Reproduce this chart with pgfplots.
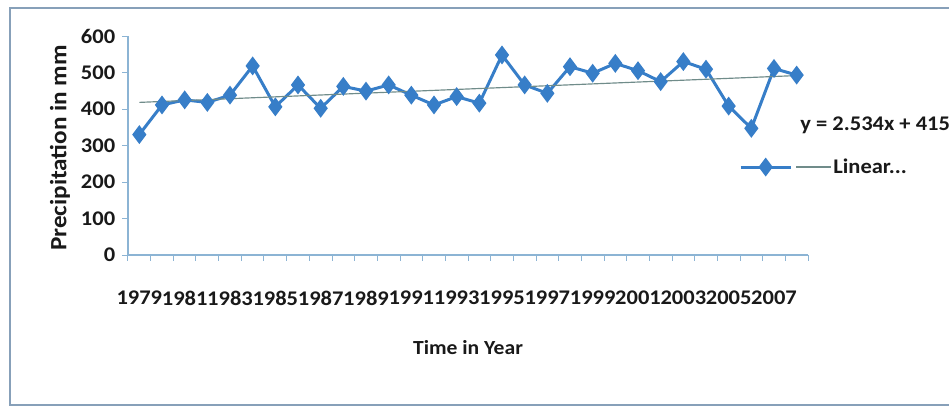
\documentclass[border=0pt]{standalone}
\usepackage{pgfplots}
\pgfplotsset{compat=1.18}
\usepackage{fontspec}
\setmainfont{Carlito}[FakeStretch=1.08]

\definecolor{serblue}{RGB}{55,126,200}
\definecolor{trendc}{RGB}{112,140,138}
\definecolor{axc}{RGB}{140,180,212}
\definecolor{framec}{RGB}{135,160,185}
\definecolor{txt}{RGB}{25,25,25}

\pgfplotsset{
  legA/.style={legend image code/.code={\draw[mark repeat=2, mark phase=2, ##1] plot coordinates {(0pt,0pt) (15pt,0pt) (30pt,0pt)};}},
  legB/.style={legend image code/.code={\draw[##1] (0pt,0pt) -- (21pt,0pt);}},
}

\begin{document}
\begin{tikzpicture}
\begin{axis}[
  at={(0,0)}, anchor=south west,
  width=408pt, height=131.4pt, scale only axis,
  xmin=0.5, xmax=30.5, ymin=0, ymax=600,
  clip=false,
  axis x line=bottom, axis y line=left,
  axis line style={-, axc, line width=0.8pt},
  tick align=outside, major tick length=3.5pt,
  tick style={axc, line width=0.6pt},
  xtick={0.5,1.5,...,30.5}, xticklabels={},
  extra x ticks={1,3,...,29},
  extra x tick labels={1979,1981,1983,1985,1987,1989,1991,1993,1995,1997,1999,2001,2003,2005,2007},
  extra x tick style={tick style={draw=none}},
  ytick={0,100,...,600},
  ticklabel style={font=\fontsize{12.5}{14}\selectfont\bfseries, text=txt},
  /pgf/number format/assume math mode=true,
  xticklabel style={inner sep=0pt, yshift=-18pt},
  yticklabel style={inner sep=0pt, xshift=-4pt},
  xlabel={Time in Year},
  ylabel={Precipitation in mm},
  xlabel style={font=\fontsize{12}{14}\selectfont\bfseries, text=txt, at={(rel axis cs:0.5,0)}, anchor=center, yshift=-55.8pt},
  ylabel style={font=\fontsize{14}{16}\selectfont\bfseries, text=txt, at={(rel axis cs:0,0.5)}, anchor=center, yshift=40.8pt, xshift=-1.5pt},
  legend columns=2,
  legend style={draw=none, fill=none, inner sep=0pt, anchor=west, at={(axis cs:27.45,241)},
    font=\fontsize{12.5}{14}\selectfont\bfseries, text=txt,
    nodes={inner sep=1pt}},
  legend cell align=left,
]
\addplot[serblue, line width=1.8pt, mark=diamond*, mark size=4.2pt, mark options={solid}, legA]
  coordinates {
  (1,330) (2,411) (3,425) (4,418) (5,438) (6,518) (7,406) (8,466) (9,402) (10,462)
  (11,449) (12,466) (13,438) (14,411) (15,434) (16,416) (17,548) (18,466) (19,443) (20,516)
  (21,498) (22,525) (23,505) (24,475) (25,530) (26,509) (27,408) (28,347) (29,511) (30,493)
  };
\addlegendentry{}
\addplot[trendc, line width=0.7pt, legB]
  coordinates {(1,418.134) (30,491.62)};
\addlegendentry{Linear...}
\node[anchor=west, inner sep=0pt, font=\fontsize{12.5}{14}\selectfont\bfseries, text=txt] at (axis cs:30.15,356) {y = 2.534x + 415.6};
\end{axis}
\draw[framec, line width=0.9pt] (-70.8pt,-90pt) rectangle (520pt,148.2pt);
\pgfresetboundingbox
\useasboundingbox (-76.8pt,-94.2pt) rectangle (492.6pt,153pt);
\end{tikzpicture}
\end{document}
